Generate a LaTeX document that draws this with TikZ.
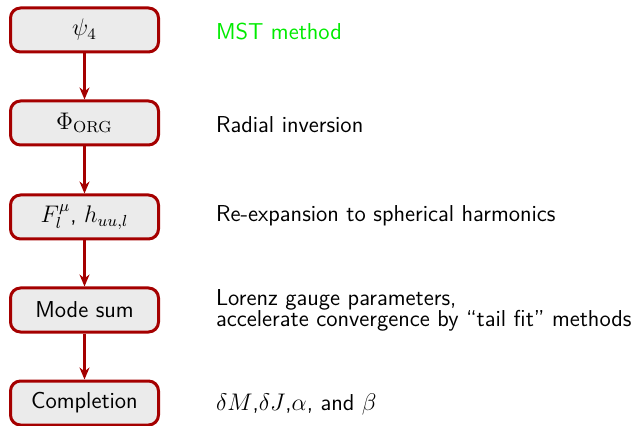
\documentclass[tikz,border=0pt]{standalone}
\usetikzlibrary{arrows.meta}
\definecolor{boxred}{RGB}{165,0,0}
\definecolor{boxfill}{RGB}{235,235,235}
\definecolor{notegreen}{RGB}{0,235,0}
\begin{document}
\begin{tikzpicture}[x=0.5pt,y=-0.5pt,
  every node/.style={font=\fontsize{11.5}{10.6}\selectfont\sffamily},
  stepbox/.style={draw=boxred, line width=1.5pt, fill=boxfill, rounded corners=5pt,
    minimum width=74pt, minimum height=22pt, inner sep=0pt},
  note/.style={anchor=west, align=left},
  flow/.style={draw=boxred, line width=1.2pt, -{Stealth[length=6pt,width=5pt]}}]
\useasboundingbox (0,0) rectangle (635,426);
\node[stepbox] (psi)  at (84.5,30)  {$\psi_4$};
\node[stepbox] (phi)  at (84.5,123) {$\Phi_{\mathrm{ORG}}$};
\node[stepbox] (flh)  at (84.5,217) {$F^{\mu}_{l}$, $h_{uu,l}$};
\node[stepbox] (mode) at (84.5,310) {Mode sum};
\node[stepbox] (comp) at (84.5,403) {Completion};
\draw[flow] (psi) -- (phi);
\draw[flow] (phi) -- (flh);
\draw[flow] (flh) -- (mode);
\draw[flow] (mode) -- (comp);
\node[note, text=notegreen] (n1) at (209,32) {MST method};
\node[note] (n2) at (209,125) {Radial inversion};
\node[note] (n3) at (209,216) {Re-expansion to spherical harmonics};
\node[note] (n4) at (209,310) {Lorenz gauge parameters,\\accelerate convergence by ``tail fit'' methods};
\node[note] (n5) at (209,404) {$\delta M$,$\delta J$,$\alpha$, and $\beta$};
\end{tikzpicture}
\end{document}
